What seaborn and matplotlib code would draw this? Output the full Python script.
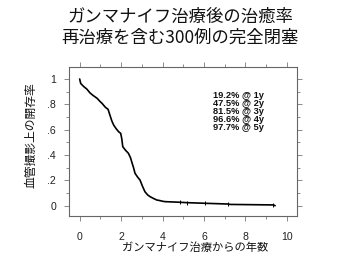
import numpy as np
import pandas as pd
import matplotlib
matplotlib.use("Agg")
import matplotlib.pyplot as plt
import seaborn as sns
from matplotlib.ticker import MultipleLocator, FixedLocator, FixedFormatter

# ---- data ----
years = [0, 0.05, 0.2, 0.35, 0.5, 0.65, 0.84, 1.0, 1.08, 1.24, 1.37, 1.45, 1.55,
         1.64, 1.75, 1.88, 1.98, 2.03, 2.08, 2.2, 2.35, 2.45, 2.51, 2.6, 2.67,
         2.8, 2.91, 3.04, 3.15, 3.28, 3.4, 3.55, 3.72, 3.88, 4.0, 4.12, 4.85,
         5.17, 6.05, 7.18, 7.25, 9.35, 9.43]
patency = [1.0, 0.965, 0.94, 0.92, 0.89, 0.87, 0.848, 0.82, 0.808, 0.777, 0.761,
           0.72, 0.67, 0.637, 0.61, 0.584, 0.571, 0.53, 0.466, 0.44, 0.414, 0.38,
           0.347, 0.30, 0.256, 0.225, 0.203, 0.15, 0.11, 0.085, 0.071, 0.058,
           0.045, 0.04, 0.035, 0.032, 0.027, 0.024, 0.019, 0.013, 0.010, 0.006, 0.0]
censor_years = [4.85, 5.17, 6.05, 7.18, 9.35]
censor_vals = [0.027, 0.024, 0.019, 0.013, 0.006]

rates = ["19.2%", "47.5%", "81.5%", "96.6%", "97.7%"]
rate_years = ["1y", "2y", "3y", "4y", "5y"]

x_ticks = [0, 2, 4, 6, 8, 10]
y_ticks = [0, 0.2, 0.4, 0.6, 0.8, 1.0]
y_tick_labels = ["0", ".2", ".4", ".6", ".8", "1"]

title = "ガンマナイフ治療後の治癒率\n再治療を含む300例の完全閉塞"
xlabel = "ガンマナイフ治療からの年数"
ylabel = "血管撮影上の開存率"

# ---- figure ----
sns.set_theme(style="ticks")
plt.rcParams['font.family'] = ['Liberation Sans', 'DejaVu Sans']
cjk = ['Noto Sans CJK JP', 'DejaVu Sans']

fig = plt.figure(figsize=(3.6, 2.6), dpi=100)
fig.patch.set_facecolor("white")
ax = fig.add_axes([69.3/360, 1-215.7/260, (297.3-69.3)/360, (215.7-67)/260])

df = pd.DataFrame({"years": years, "patency": patency})
sns.lineplot(data=df, x="years", y="patency", ax=ax, color="black",
             linewidth=1.2, sort=False)
cdf = pd.DataFrame({"years": censor_years, "patency": censor_vals})
sns.scatterplot(data=cdf, x="years", y="patency", ax=ax, color="black",
                marker="|", s=5, linewidth=0.7)

ax.set_xlim(-0.5, 10.5)
ax.set_ylim(-0.079, 1.095)

ax.xaxis.set_major_locator(FixedLocator(x_ticks))
ax.xaxis.set_minor_locator(MultipleLocator(1))
ax.yaxis.set_major_locator(FixedLocator(y_ticks))
ax.yaxis.set_major_formatter(FixedFormatter(y_tick_labels))
ax.yaxis.set_minor_locator(MultipleLocator(0.1))
ax.xaxis.set_ticks_position("both")
ax.yaxis.set_ticks_position("both")

for s in ax.spines.values():
    s.set_visible(True)
    s.set_color("#666666")
    s.set_linewidth(0.8)

ax.tick_params(axis="both", which="both", direction="out", top=True, right=True,
               bottom=True, left=True, labeltop=False, labelright=False,
               color="#777777", width=0.6, labelsize=7.6, labelcolor="#222222")
ax.tick_params(axis="both", which="major", length=3.4)
ax.tick_params(axis="both", which="minor", length=2.2)
ax.tick_params(axis="x", which="major", pad=8)
ax.tick_params(axis="y", which="major", pad=6)

ax.set_xlabel("")
ax.set_ylabel("")

block = "\n".join(f"{r} @ {y}" for r, y in zip(rates, rate_years))
ax.text(7.65, 0.742, block, ha="center", va="center", multialignment="center",
        fontsize=6.7, fontweight="bold", color="#111111", linespacing=0.86)

fig.text(0.5, 1-27/260, title, ha="center", va="center", fontsize=12.5,
         family=cjk, linespacing=1.2, color="#111111")
fig.text(195/360, 1-248/260, xlabel, ha="center", va="center", fontsize=8.1,
         family=cjk, color="#111111")
fig.text(30.5/360, 1-135/260, ylabel, ha="center", va="center", fontsize=8.5,
         family=cjk, rotation=90, color="#111111")

fig.savefig("out.png", dpi=100, facecolor="white")
